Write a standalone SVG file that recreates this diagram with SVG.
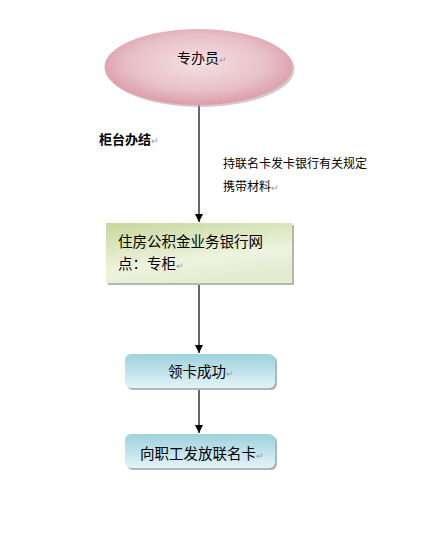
<svg xmlns="http://www.w3.org/2000/svg" width="423" height="533" viewBox="0 0 423 533">
<style>
text{font-family:"Noto Sans CJK SC","Liberation Sans",sans-serif;fill:#000}
.t{font-size:14px}
.s{font-size:12px}
.pm{fill:#999;font-size:9px}
.edge{stroke:#000;stroke-width:1.2;fill:none}
</style>
<defs>
<radialGradient id="gPink" cx="0.5" cy="0.45" r="0.6">
<stop offset="0" stop-color="#f3e0e3"/>
<stop offset="0.6" stop-color="#e8c1c8"/>
<stop offset="1" stop-color="#d7929f"/>
</radialGradient>
<linearGradient id="gGreen" x1="0" y1="0" x2="0.4" y2="1">
<stop offset="0" stop-color="#c6d89c"/>
<stop offset="0.7" stop-color="#eef3df"/>
<stop offset="1" stop-color="#e4ecd0"/>
</linearGradient>
<linearGradient id="gBlue" x1="0" y1="0" x2="0" y2="1">
<stop offset="0" stop-color="#9dd1de"/>
<stop offset="1" stop-color="#e3f3f7"/>
</linearGradient>
<marker id="arr" markerWidth="8" markerHeight="8" refX="8" refY="4" orient="auto" markerUnits="userSpaceOnUse">
<path d="M0,0 L8,4 L0,8 Z" fill="#000"/>
</marker>
</defs>
<g id="connectors">
<line class="edge" x1="199" y1="105" x2="199" y2="222" marker-end="url(#arr)"/>
<line class="edge" x1="199" y1="284" x2="199" y2="353" marker-end="url(#arr)"/>
<line class="edge" x1="199" y1="389" x2="199" y2="433" marker-end="url(#arr)"/>
</g>
<g id="n1">
<ellipse cx="200.5" cy="69" rx="94" ry="38" fill="#b9a3a6" opacity="0.6"/>
<ellipse cx="198.5" cy="67" rx="94" ry="38" fill="url(#gPink)"/>
<text class="t" x="177" y="63">专办员<tspan class="pm">↵</tspan></text>
</g>
<g id="label1">
<text x="99" y="144" style="font-size:13px;font-weight:bold">柜台办结<tspan class="pm" style="font-weight:normal">↵</tspan></text>
</g>
<g id="label2">
<text class="s" x="223" y="168">持联名卡发卡银行有关规定</text>
<text class="s" x="223" y="191">携带材料<tspan class="pm">↵</tspan></text>
</g>
<g id="n2">
<rect x="108" y="225" width="186" height="60" fill="#b5b8ad"/>
<rect x="106" y="223" width="186" height="60" fill="url(#gGreen)"/>
<text style="font-size:14.5px" x="118" y="247">住房公积金业务银行网</text>
<text style="font-size:14.5px" x="118" y="269">点：专柜<tspan class="pm">↵</tspan></text>
</g>
<g id="n3">
<rect x="127" y="356" width="150" height="34" rx="6" fill="#a9b8bc"/>
<rect x="125" y="354" width="150" height="34" rx="6" fill="url(#gBlue)"/>
<text style="font-size:14.5px" x="168" y="377">领卡成功<tspan class="pm">↵</tspan></text>
</g>
<g id="n4">
<rect x="127" y="436" width="150" height="34" rx="6" fill="#a9b8bc"/>
<rect x="125" y="434" width="150" height="34" rx="6" fill="url(#gBlue)"/>
<text style="font-size:14.5px" x="140" y="459">向职工发放联名卡<tspan class="pm">↵</tspan></text>
</g>
</svg>
